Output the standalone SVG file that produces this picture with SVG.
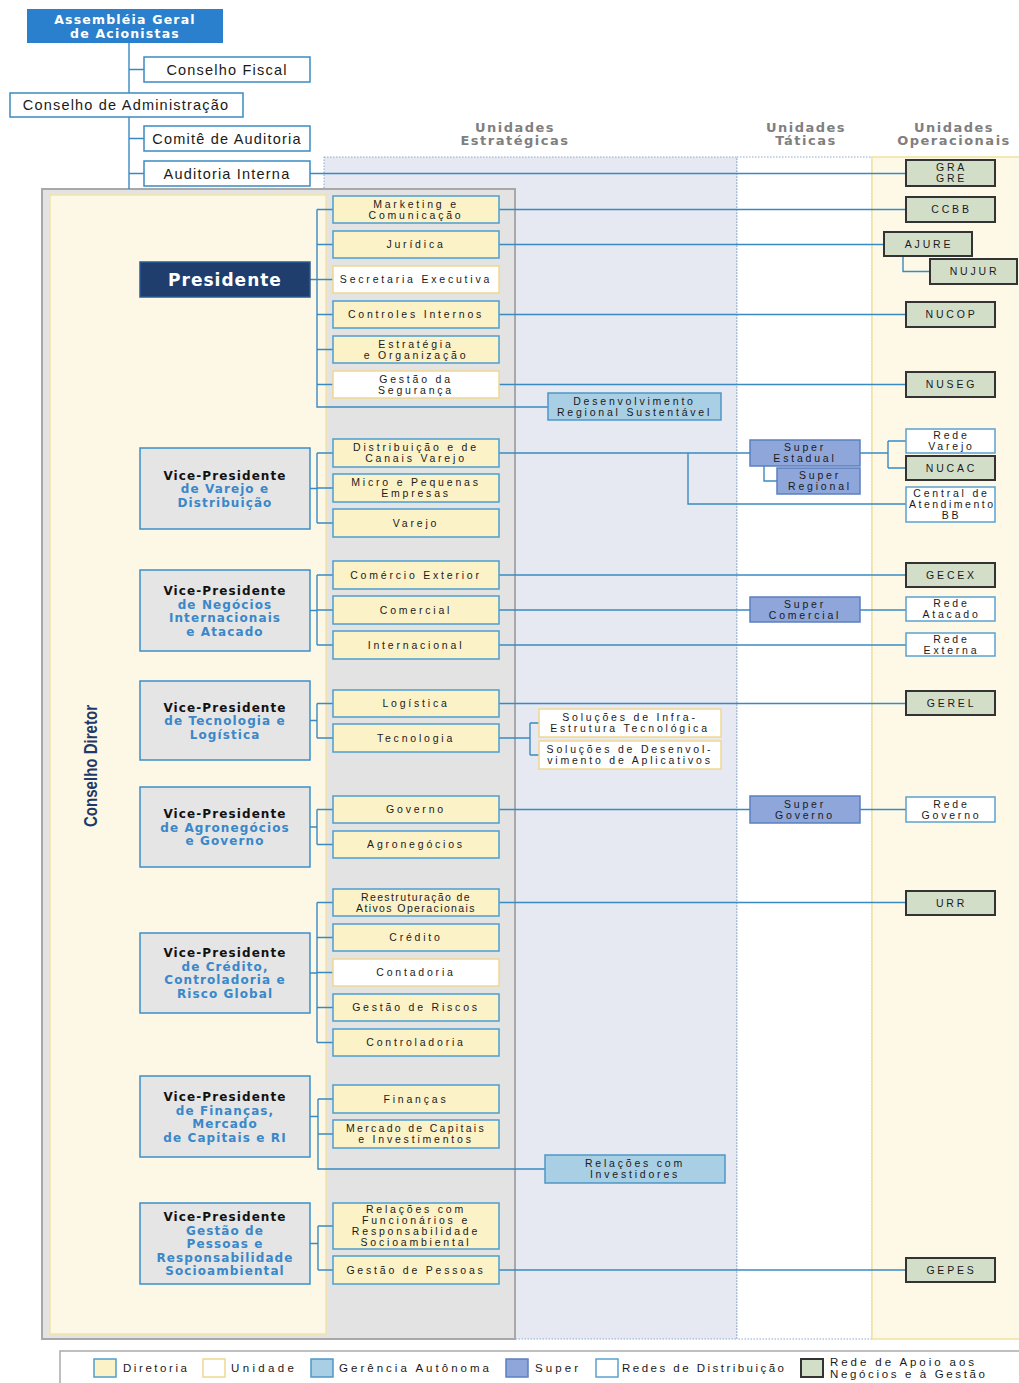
<svg xmlns="http://www.w3.org/2000/svg" width="1019" height="1383" viewBox="0 0 1019 1383">
<style>
.top{fill:#fff;stroke:#3a8ac2;stroke-width:1.5}
.dir{fill:#fcf2c8;stroke:#4c9ed0;stroke-width:1.5}
.uni{fill:#fff;stroke:#f0d890;stroke-width:1.5}
.ga{fill:#a9cfe4;stroke:#4f97c6;stroke-width:1.5}
.su{fill:#8ea6da;stroke:#5b7fc0;stroke-width:1.5}
.rd{fill:#fff;stroke:#5aa2d0;stroke-width:1.5}
.ra{fill:#d3dec9;stroke:#333;stroke-width:2}
.vp{fill:#e5e5e5;stroke:#3d8fc9;stroke-width:1.5}
.t{font-family:'Liberation Sans',Arial,sans-serif;font-size:10.5px;letter-spacing:2.8px;fill:#1a1a1a;text-anchor:middle}
.tt{font-family:'Liberation Sans',Arial,sans-serif;font-size:14.5px;letter-spacing:1.2px;fill:#1a1a1a;text-anchor:middle}
.vpk{font-family:'DejaVu Sans',sans-serif;font-weight:bold;font-size:12px;letter-spacing:1.1px;fill:#111;text-anchor:middle}
.vpb{font-family:'DejaVu Sans',sans-serif;font-weight:bold;font-size:12px;letter-spacing:1.1px;fill:#3a87c9;text-anchor:middle}
.hd{font-family:'DejaVu Sans',sans-serif;font-weight:bold;font-size:13px;letter-spacing:1.5px;fill:#7f7f7f;text-anchor:middle}
.lg{font-family:'Liberation Sans',Arial,sans-serif;font-size:11.5px;fill:#1a1a1a}
.cn{fill:none;stroke:#3a8ac2;stroke-width:1.4}
</style>

<!-- background regions -->
<rect x="324" y="157" width="413" height="1182" fill="#e6e9f1" stroke="#8fa8cc" stroke-width="1" stroke-dasharray="1.5,1.5"/>
<rect x="737" y="157" width="135" height="1182" fill="#fff" stroke="#8fa8cc" stroke-width="1" stroke-dasharray="1.5,1.5"/>
<rect x="872" y="157" width="160" height="1182" fill="#fdf9e6" stroke="#f0e2a0" stroke-width="1.5"/>
<rect x="42" y="189" width="473" height="1150" fill="#e3e3e3" stroke="#a8a8a8" stroke-width="2"/>
<rect x="50" y="195" width="276" height="1139" fill="#fdf8e6" stroke="#f3e3a8" stroke-width="1.5"/>

<text class="hd" x="515" y="132">Unidades</text>
<text class="hd" x="515" y="145">Estratégicas</text>
<text class="hd" x="806" y="132">Unidades</text>
<text class="hd" x="806" y="145">Táticas</text>
<text class="hd" x="954" y="132">Unidades</text>
<text class="hd" x="954" y="145">Operacionais</text>

<text x="97" y="766" transform="rotate(-90 97 766)" font-family="'Liberation Sans',Arial,sans-serif" font-weight="bold" font-size="19" fill="#1f3a6a" text-anchor="middle" textLength="122" lengthAdjust="spacingAndGlyphs">Conselho Diretor</text>

<!-- connectors -->
<g id="connectors">
<path class="cn" d="M129,43V189M129,69.5H144M129,138.5H144M129,173.5H144M310,173.5H906"/>
<path class="cn" d="M310,279.5H317M317,209.5V407H548M317,209.5H333M317,244.5H333M317,279.5H333M317,314.5H333M317,349.5H333M317,384.5H333"/>
<path class="cn" d="M499,209.5H906M499,244.5H884M903,256V271.5H930M499,314.5H906M499,384.5H906"/>
<path class="cn" d="M310,488.5H317M317,453V523M317,453H333M317,488H333M317,523H333"/>
<path class="cn" d="M499,453H750M688,453V504H906M860,453H888M888,441V468M888,441H906M888,468H906M764,466V481H777"/>
<path class="cn" d="M310,610.5H317M317,575V645M317,575H333M317,610H333M317,645H333M499,575H906M499,610H750M860,610H906M499,645H906"/>
<path class="cn" d="M310,720.5H317M317,703.5V738M317,703.5H333M317,738H333M499,703.5H906M499,738H530M530,723V755M530,723H539M530,755H539"/>
<path class="cn" d="M310,827H317M317,809.5V844.5M317,809.5H333M317,844.5H333M499,809.5H750M860,809.5H906"/>
<path class="cn" d="M310,973H317M317,902.5V1042.5M317,902.5H333M317,937.5H333M317,972.5H333M317,1007.5H333M317,1042.5H333M499,902.5H906"/>
<path class="cn" d="M310,1116.5H318M318,1099V1169H545M318,1099H333M318,1134H333"/>
<path class="cn" d="M310,1243.5H318M318,1226V1270M318,1226H333M318,1270H333M499,1270H906"/>
</g>

<!-- top -->
<g id="assembleia"><rect x="27" y="9" width="196" height="34" fill="#2a80cc"/>
<text x="125" y="23.5" font-family="'DejaVu Sans',sans-serif" font-weight="bold" font-size="12.5" letter-spacing="1.2" fill="#fff" text-anchor="middle">Assembléia Geral</text>
<text x="125" y="37.5" font-family="'DejaVu Sans',sans-serif" font-weight="bold" font-size="12.5" letter-spacing="1.2" fill="#fff" text-anchor="middle">de Acionistas</text></g>
<g id="conselho-fiscal"><rect class="top" x="144" y="57" width="166" height="25"/><text class="tt" x="227" y="74.5">Conselho Fiscal</text></g>
<g id="conselho-adm"><rect class="top" x="10" y="93" width="233" height="24"/><text class="tt" x="126" y="110">Conselho de Administração</text></g>
<g id="comite"><rect class="top" x="144" y="126" width="166" height="25"/><text class="tt" x="227" y="143.5">Comitê de Auditoria</text></g>
<g id="auditoria"><rect class="top" x="144" y="161" width="166" height="25"/><text class="tt" x="227" y="178.5">Auditoria Interna</text></g>

<!-- Presidente -->
<g id="presidente"><rect x="140" y="262" width="170" height="35" fill="#1f3e6e" stroke="#2d5a94" stroke-width="1.5"/>
<text x="225" y="285.5" font-family="'DejaVu Sans',sans-serif" font-weight="bold" font-size="17" letter-spacing="1" fill="#fff" text-anchor="middle">Presidente</text></g>

<g id="marketing"><rect class="dir" x="333" y="196" width="166" height="27"/><text class="t" x="416" y="207.8">Marketing e</text><text class="t" x="416" y="218.8">Comunicação</text></g>
<g id="juridica"><rect class="dir" x="333" y="231" width="166" height="27"/><text class="t" x="416" y="248.3">Jurídica</text></g>
<g id="secretaria"><rect class="uni" x="333" y="266" width="166" height="27"/><text class="t" x="416" y="283.3">Secretaria Executiva</text></g>
<g id="controles"><rect class="dir" x="333" y="301" width="166" height="27"/><text class="t" x="416" y="318.3">Controles Internos</text></g>
<g id="estrategia"><rect class="dir" x="333" y="336" width="166" height="27"/><text class="t" x="416" y="347.8">Estratégia</text><text class="t" x="416" y="358.8">e Organização</text></g>
<g id="seguranca"><rect class="uni" x="333" y="371" width="166" height="27"/><text class="t" x="416" y="382.8">Gestão da</text><text class="t" x="416" y="393.8">Segurança</text></g>
<g id="desenvolvimento"><rect class="ga" x="548" y="393" width="173" height="27"/><text class="t" x="634.5" y="404.8">Desenvolvimento</text><text class="t" x="634.5" y="415.8">Regional Sustentável</text></g>

<g id="gra"><rect class="ra" x="906" y="160" width="89" height="26"/><text class="t" x="951.5" y="171.3">GRA</text><text class="t" x="951.5" y="182.3">GRE</text></g>
<g id="ccbb"><rect class="ra" x="906" y="197" width="89" height="25"/><text class="t" x="951.5" y="213.3">CCBB</text></g>
<g id="ajure"><rect class="ra" x="884" y="232" width="88" height="24"/><text class="t" x="929" y="247.8">AJURE</text></g>
<g id="nujur"><rect class="ra" x="930" y="259" width="87" height="25"/><text class="t" x="974.5" y="275.3">NUJUR</text></g>
<g id="nucop"><rect class="ra" x="906" y="302" width="89" height="25"/><text class="t" x="951.5" y="318.3">NUCOP</text></g>
<g id="nuseg"><rect class="ra" x="906" y="372" width="89" height="25"/><text class="t" x="951.5" y="388.3">NUSEG</text></g>

<!-- VP Varejo -->
<g id="vp-varejo"><rect class="vp" x="140" y="448" width="170" height="81"/>
<text class="vpk" x="225" y="479.5">Vice-Presidente</text><text class="vpb" x="225" y="493">de Varejo e</text><text class="vpb" x="225" y="506.5">Distribuição</text></g>
<g id="distribuicao"><rect class="dir" x="333" y="439" width="166" height="28"/><text class="t" x="416" y="451.3">Distribuição e de</text><text class="t" x="416" y="462.3">Canais Varejo</text></g>
<g id="micro"><rect class="dir" x="333" y="474" width="166" height="28"/><text class="t" x="416" y="486.3">Micro e Pequenas</text><text class="t" x="416" y="497.3">Empresas</text></g>
<g id="varejo"><rect class="dir" x="333" y="509" width="166" height="28"/><text class="t" x="416" y="526.8">Varejo</text></g>
<g id="super-estadual"><rect class="su" x="750" y="440" width="110" height="26"/><text class="t" x="805" y="451.3">Super</text><text class="t" x="805" y="462.3">Estadual</text></g>
<g id="super-regional"><rect class="su" x="777" y="468" width="83" height="26"/><text class="t" x="820" y="479.3">Super</text><text class="t" x="820" y="490.3">Regional</text></g>
<g id="rede-varejo"><rect class="rd" x="906" y="429" width="89" height="24"/><text class="t" x="951.5" y="439.3">Rede</text><text class="t" x="951.5" y="450.3">Varejo</text></g>
<g id="nucac"><rect class="ra" x="906" y="456" width="89" height="24"/><text class="t" x="951.5" y="471.8">NUCAC</text></g>
<g id="central"><rect class="rd" x="906" y="487" width="89" height="35"/><text class="t" x="951.5" y="497.3">Central de</text><text class="t" x="951" y="508.3" textLength="84" lengthAdjust="spacing" style="letter-spacing:0">Atendimento</text><text class="t" x="951.5" y="519.3">BB</text></g>

<!-- VP Negocios Internacionais -->
<g id="vp-negocios"><rect class="vp" x="140" y="570" width="170" height="81"/>
<text class="vpk" x="225" y="595">Vice-Presidente</text><text class="vpb" x="225" y="608.5">de Negócios</text><text class="vpb" x="225" y="622">Internacionais</text><text class="vpb" x="225" y="635.5">e Atacado</text></g>
<g id="comercio"><rect class="dir" x="333" y="561" width="166" height="28"/><text class="t" x="416" y="578.8">Comércio Exterior</text></g>
<g id="comercial"><rect class="dir" x="333" y="596" width="166" height="28"/><text class="t" x="416" y="613.8">Comercial</text></g>
<g id="internacional"><rect class="dir" x="333" y="631" width="166" height="28"/><text class="t" x="416" y="648.8">Internacional</text></g>
<g id="gecex"><rect class="ra" x="906" y="563" width="89" height="24"/><text class="t" x="951.5" y="578.8">GECEX</text></g>
<g id="super-comercial"><rect class="su" x="750" y="597" width="110" height="25"/><text class="t" x="805" y="607.8">Super</text><text class="t" x="805" y="618.8">Comercial</text></g>
<g id="rede-atacado"><rect class="rd" x="906" y="597" width="89" height="24"/><text class="t" x="951.5" y="607.3">Rede</text><text class="t" x="951.5" y="618.3">Atacado</text></g>
<g id="rede-externa"><rect class="rd" x="906" y="633" width="89" height="23"/><text class="t" x="951.5" y="642.8">Rede</text><text class="t" x="951.5" y="653.8">Externa</text></g>

<!-- VP Tecnologia -->
<g id="vp-tecnologia"><rect class="vp" x="140" y="681" width="170" height="79"/>
<text class="vpk" x="225" y="711.5">Vice-Presidente</text><text class="vpb" x="225" y="725">de Tecnologia e</text><text class="vpb" x="225" y="738.5">Logística</text></g>
<g id="logistica"><rect class="dir" x="333" y="690" width="166" height="27"/><text class="t" x="416" y="707.3">Logística</text></g>
<g id="tecnologia"><rect class="dir" x="333" y="724" width="166" height="28"/><text class="t" x="416" y="741.8">Tecnologia</text></g>
<g id="solucoes-infra"><rect class="uni" x="539" y="709" width="182" height="28"/><text class="t" x="630" y="721.3">Soluções de Infra-</text><text class="t" x="630" y="732.3">Estrutura Tecnológica</text></g>
<g id="solucoes-desenv"><rect class="uni" x="539" y="741" width="182" height="28"/><text class="t" x="630" y="753.3">Soluções de Desenvol-</text><text class="t" x="630" y="764.3">vimento de Aplicativos</text></g>
<g id="gerel"><rect class="ra" x="906" y="691" width="89" height="24"/><text class="t" x="951.5" y="706.8">GEREL</text></g>

<!-- VP Agronegocios -->
<g id="vp-agro"><rect class="vp" x="140" y="787" width="170" height="80"/>
<text class="vpk" x="225" y="818">Vice-Presidente</text><text class="vpb" x="225" y="831.5">de Agronegócios</text><text class="vpb" x="225" y="845">e Governo</text></g>
<g id="governo"><rect class="dir" x="333" y="796" width="166" height="27"/><text class="t" x="416" y="813.3">Governo</text></g>
<g id="agronegocios"><rect class="dir" x="333" y="831" width="166" height="27"/><text class="t" x="416" y="848.3">Agronegócios</text></g>
<g id="super-governo"><rect class="su" x="750" y="796" width="110" height="27"/><text class="t" x="805" y="807.8">Super</text><text class="t" x="805" y="818.8">Governo</text></g>
<g id="rede-governo"><rect class="rd" x="906" y="797" width="89" height="25"/><text class="t" x="951.5" y="807.8">Rede</text><text class="t" x="951.5" y="818.8">Governo</text></g>

<!-- VP Credito -->
<g id="vp-credito"><rect class="vp" x="140" y="933" width="170" height="80"/>
<text class="vpk" x="225" y="957">Vice-Presidente</text><text class="vpb" x="225" y="970.5">de Crédito,</text><text class="vpb" x="225" y="984">Controladoria e</text><text class="vpb" x="225" y="997.5">Risco Global</text></g>
<g id="reestruturacao"><rect class="dir" x="333" y="889" width="166" height="27"/><text class="t" x="416" y="900.8" style="letter-spacing:1.4px">Reestruturação de</text><text class="t" x="416" y="911.8" style="letter-spacing:1.4px">Ativos Operacionais</text></g>
<g id="credito"><rect class="dir" x="333" y="924" width="166" height="27"/><text class="t" x="416" y="941.3">Crédito</text></g>
<g id="contadoria"><rect class="uni" x="333" y="959" width="166" height="27"/><text class="t" x="416" y="976.3">Contadoria</text></g>
<g id="riscos"><rect class="dir" x="333" y="994" width="166" height="27"/><text class="t" x="416" y="1011.3">Gestão de Riscos</text></g>
<g id="controladoria"><rect class="dir" x="333" y="1029" width="166" height="27"/><text class="t" x="416" y="1046.3">Controladoria</text></g>
<g id="urr"><rect class="ra" x="906" y="891" width="89" height="24"/><text class="t" x="951.5" y="906.8">URR</text></g>

<!-- VP Financas -->
<g id="vp-financas"><rect class="vp" x="140" y="1076" width="170" height="81"/>
<text class="vpk" x="225" y="1101">Vice-Presidente</text><text class="vpb" x="225" y="1114.5">de Finanças,</text><text class="vpb" x="225" y="1128">Mercado</text><text class="vpb" x="225" y="1141.5">de Capitais e RI</text></g>
<g id="financas"><rect class="dir" x="333" y="1085" width="166" height="28"/><text class="t" x="416" y="1102.8">Finanças</text></g>
<g id="mercado"><rect class="dir" x="333" y="1120" width="166" height="28"/><text class="t" x="416" y="1132.3" style="letter-spacing:2.3px">Mercado de Capitais</text><text class="t" x="416" y="1143.3">e Investimentos</text></g>
<g id="relacoes-investidores"><rect class="ga" x="545" y="1155" width="180" height="28"/><text class="t" x="635" y="1167.3">Relações com</text><text class="t" x="635" y="1178.3">Investidores</text></g>

<!-- VP Gestao de Pessoas -->
<g id="vp-pessoas"><rect class="vp" x="140" y="1203" width="170" height="81"/>
<text class="vpk" x="225" y="1221">Vice-Presidente</text><text class="vpb" x="225" y="1234.5">Gestão de</text><text class="vpb" x="225" y="1248">Pessoas e</text><text class="vpb" x="225" y="1261.5">Responsabilidade</text><text class="vpb" x="225" y="1275">Socioambiental</text></g>
<g id="relacoes-funcionarios"><rect class="dir" x="333" y="1203" width="166" height="46"/><text class="t" x="416" y="1213.3">Relações com</text><text class="t" x="416" y="1224.3">Funcionários e</text><text class="t" x="416" y="1235.3">Responsabilidade</text><text class="t" x="416" y="1246.3">Socioambiental</text></g>
<g id="gestao-pessoas"><rect class="dir" x="333" y="1256" width="166" height="28"/><text class="t" x="416" y="1273.8">Gestão de Pessoas</text></g>
<g id="gepes"><rect class="ra" x="906" y="1258" width="89" height="24"/><text class="t" x="951.5" y="1273.8">GEPES</text></g>

<!-- legend -->
<g id="legend">
<rect x="60" y="1351" width="975" height="45" fill="#fff" stroke="#aaa" stroke-width="1.5"/>
<rect class="dir" x="94" y="1359" width="22" height="18"/><text class="lg" x="123" y="1372" textLength="64" lengthAdjust="spacing">Diretoria</text>
<rect class="uni" x="203" y="1359" width="22" height="18"/><text class="lg" x="231" y="1372" textLength="63" lengthAdjust="spacing">Unidade</text>
<rect class="ga" x="311" y="1359" width="22" height="18"/><text class="lg" x="339" y="1372" textLength="150" lengthAdjust="spacing">Gerência Autônoma</text>
<rect class="su" x="506" y="1359" width="22" height="18"/><text class="lg" x="535" y="1372" textLength="43" lengthAdjust="spacing">Super</text>
<rect class="rd" x="596" y="1359" width="22" height="18"/><text class="lg" x="622" y="1372" textLength="162" lengthAdjust="spacing">Redes de Distribuição</text>
<rect class="ra" x="801" y="1359" width="22" height="18"/><text class="lg" x="830" y="1366" textLength="144" lengthAdjust="spacing">Rede de Apoio aos</text><text class="lg" x="830" y="1378" textLength="155" lengthAdjust="spacing">Negócios e à Gestão</text>
</g>
</svg>
